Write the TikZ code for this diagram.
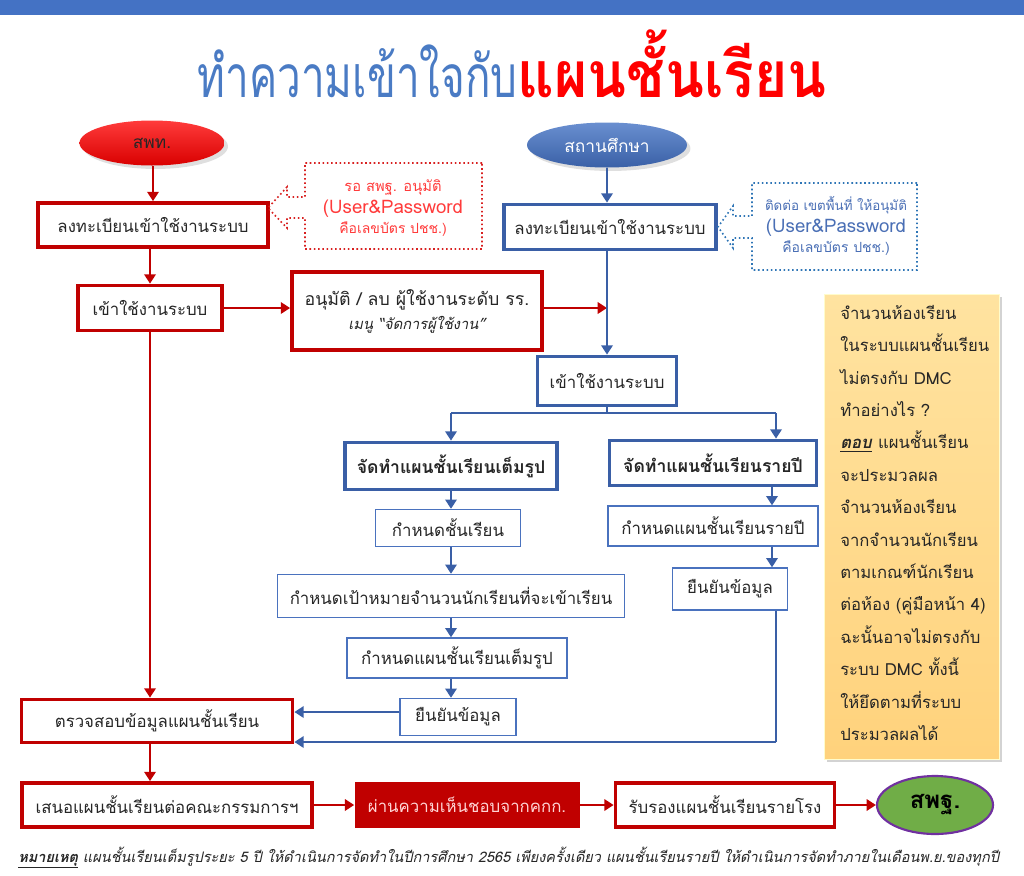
\documentclass[tikz,border=0pt]{standalone}
\usepackage{fontspec}
\setmainfont[Script=Thai]{Loma}
\newfontfamily\titleblue[Script=Thai,FakeStretch=0.72]{Loma}
\newfontfamily\titlered[Script=Thai,FakeStretch=0.89]{Loma}
\usetikzlibrary{arrows.meta,shapes.geometric,shadows,calc}
\definecolor{dred}{HTML}{C00000}
\definecolor{bblue}{HTML}{3A5FA6}
\definecolor{lblue}{HTML}{4A72BE}
\definecolor{barblue}{HTML}{4472C4}
\definecolor{tblue}{HTML}{4A7BC4}
\definecolor{txt}{HTML}{262626}
\definecolor{cred}{HTML}{D82020}
\definecolor{ctred}{HTML}{FF3B3B}
\definecolor{cblue}{HTML}{2E75B6}
\definecolor{ctblue}{HTML}{4A6FB5}
\definecolor{ynote}{HTML}{FFD27C}
\definecolor{ynotetop}{HTML}{FFE3A0}
\definecolor{ggreen}{HTML}{70AD47}
\definecolor{gpurple}{HTML}{7030A0}
\definecolor{passtxt}{HTML}{FFD5D5}
\begin{document}
\begin{tikzpicture}[x=0.75pt,y=-0.75pt,
 bw/.style={minimum width=#1*0.75pt},
 bh/.style={minimum height=#1*0.75pt},
 base/.style={rectangle, inner sep=0pt, align=center, text=txt, font=\fontsize{12.6}{15}\selectfont},
 redbox/.style={base, draw=dred, line width=2.8pt, fill=white},
 bluebox/.style={base, draw=bblue, line width=2.8pt, fill=white},
 thinbox/.style={base, draw=lblue, line width=1pt, fill=white},
 arrowtip/.style={-{Triangle[length=7pt,width=8.5pt]}},
 rarr/.style={draw=dred, line width=1.8pt, arrowtip},
 barr/.style={draw=bblue, line width=1.8pt, arrowtip},
 bline/.style={draw=bblue, line width=1.8pt},
 ell/.style={ellipse, inner sep=0pt, font=\fontsize{13}{16}\selectfont},
]
\useasboundingbox (0,0) rectangle (1024,875);
\fill[barblue] (0,0) rectangle (1024,15);

% title
\node[anchor=base, inner sep=0pt] (title) at (512,97) {{\titleblue\fontsize{44}{50}\selectfont\color{tblue}ทำความเข้าใจกับ}{\titlered\fontsize{48}{52}\selectfont\bfseries\color{red}แผนชั้นเรียน}};

% ellipses
\node[ell, bw=145, bh=45, top color=ctred, bottom color=red!85!black, text=txt, drop shadow={opacity=0.25}] (spt) at (152,143) {สพท.};
\node[ell, bw=160, bh=45, top color=barblue!80!white, bottom color=barblue!85!black, text=white, drop shadow={opacity=0.25}] (school) at (607,145) {สถานศึกษา};

% red column
\node[redbox, bw=230, bh=44] (reg1) at (153,225) {ลงทะเบียนเข้าใช้งานระบบ};
\node[redbox, bw=144, bh=45] (login1) at (150,308) {เข้าใช้งานระบบ};
\node[redbox, bw=250, bh=78] (approve) at (417,311) {{\fontsize{13.3}{17}\selectfont อนุมัติ / ลบ ผู้ใช้งานระดับ รร.}\\[3pt]{\fontsize{11}{14}\selectfont\itshape เมนู “จัดการผู้ใช้งาน”}};
\node[redbox, bw=271, bh=43] (check) at (157,721) {ตรวจสอบข้อมูลแผนชั้นเรียน};
\node[redbox, bw=290, bh=44] (propose) at (167,805) {เสนอแผนชั้นเรียนต่อคณะกรรมการฯ};
\node[base, bw=225, bh=46, fill=dred, text=passtxt] (pass) at (467,805) {ผ่านความเห็นชอบจากคกก.};
\node[redbox, bw=219, bh=44] (cert) at (725,805) {รับรองแผนชั้นเรียนรายโรง};
\node[ell, bw=116, bh=58, fill=ggreen, draw=gpurple, line width=1.6pt, text=black, font=\fontsize{18}{20}\selectfont\bfseries] (obec) at (935,805) {สพฐ.};

% blue column
\node[bluebox, bw=212, bh=45] (reg2) at (610,227) {ลงทะเบียนเข้าใช้งานระบบ};
\node[bluebox, bw=139, bh=49] (login2) at (607,381) {เข้าใช้งานระบบ};
\node[bluebox, bw=212, bh=47, font=\fontsize{13.2}{16}\selectfont\bfseries] (full) at (451,466) {จัดทำแผนชั้นเรียนเต็มรูป};
\node[bluebox, bw=207, bh=45, font=\fontsize{13.2}{16}\selectfont\bfseries] (yearly) at (713,463) {จัดทำแผนชั้นเรียนรายปี};
\node[thinbox, bw=145, bh=37] (f1) at (448,528) {กำหนดชั้นเรียน};
\node[thinbox, bw=347, bh=43] (f2) at (451,596) {กำหนดเป้าหมายจำนวนนักเรียนที่จะเข้าเรียน};
\node[thinbox, bw=220, bh=40] (f3) at (457,658) {กำหนดแผนชั้นเรียนเต็มรูป};
\node[thinbox, bw=116, bh=37] (f4) at (458,717) {ยืนยันข้อมูล};
\node[thinbox, bw=210, bh=40] (y1) at (713,526) {กำหนดแผนชั้นเรียนรายปี};
\node[thinbox, bw=115, bh=42] (y2) at (730,589) {ยืนยันข้อมูล};

% callouts
\draw[cred, line width=1.2pt, dotted] (482,163) -- (305,163) -- (305,197) -- (287,197) -- (287,187) -- (268,208) -- (287,228) -- (287,218) -- (305,218) -- (305,249) -- (482,249) -- cycle;
\node[align=center, text=ctred, inner sep=0pt] (rnote) at (393,208) {{\fontsize{11}{13}\selectfont รอ สพฐ. อนุมัติ}\\[3pt]{\fontsize{14}{16}\selectfont (User\&Password}\\[3pt]{\fontsize{10.5}{13}\selectfont คือเลขบัตร ปชช.)}};
\draw[cblue, line width=1.2pt, dotted] (917,183) -- (752,183) -- (752,216) -- (733,216) -- (733,206) -- (718,227) -- (733,248) -- (733,238) -- (752,238) -- (752,270) -- (917,270) -- cycle;
\node[align=center, text=ctblue, inner sep=0pt] (bnote) at (836,226) {{\fontsize{10}{13}\selectfont ติดต่อ เขตพื้นที่ ให้อนุมัติ}\\[3pt]{\fontsize{14}{16}\selectfont (User\&Password}\\[3pt]{\fontsize{10.5}{13}\selectfont คือเลขบัตร ปชช.)}};

% note
\node[rectangle, bw=175, bh=465, top color=ynotetop, bottom color=ynote, draw=yellow!20!white, line width=1pt, drop shadow={shadow xshift=2pt, shadow yshift=-2pt, opacity=0.35}] (notebox) at (912,527) {};
\node[anchor=north west, align=left, inner sep=0pt, text=txt, font=\fontsize{12.5}{24.3}\selectfont] (notetext) at (840,305) {จำนวนห้องเรียน\\ในระบบแผนชั้นเรียน\\ไม่ตรงกับ DMC\\ทำอย่างไร ?\\\underline{\textbf{\itshape ตอบ}} แผนชั้นเรียน\\จะประมวลผล\\จำนวนห้องเรียน\\จากจำนวนนักเรียน\\ตามเกณฑ์นักเรียน\\ต่อห้อง (คู่มือหน้า 4)\\ฉะนั้นอาจไม่ตรงกับ\\ระบบ DMC ทั้งนี้\\ให้ยึดตามที่ระบบ\\ประมวลผลได้};

% footnote
\node[anchor=base west, inner sep=0pt, text=txt, font=\fontsize{10.9}{12}\selectfont\itshape] (foot) at (18,862) {\underline{\textbf{หมายเหตุ}} แผนชั้นเรียนเต็มรูประยะ 5 ปี ให้ดำเนินการจัดทำในปีการศึกษา 2565 เพียงครั้งเดียว แผนชั้นเรียนรายปี ให้ดำเนินการจัดทำภายในเดือนพ.ย.ของทุกปี};

% red connectors
\draw[rarr] (spt.south -| reg1.north) -- (reg1.north);
\draw[rarr] (reg1.south -| login1.north) -- (login1.north);
\draw[rarr] (login1.east) -- (login1.east -| approve.west);
\draw[rarr] (approve.east |- login1.east) -- (login1.east -| login2.north);
\draw[rarr] (login1.south) -- (login1.south |- check.north);
\draw[rarr] (check.south -| login1.south) -- (login1.south |- propose.north);
\draw[rarr] (propose.east) -- (pass.west);
\draw[rarr] (pass.east) -- (cert.west);
\draw[rarr] (cert.east) -- (obec.west);

% blue connectors
\draw[barr] (school.south) -- (school.south |- reg2.north);
\draw[barr] (reg2.south -| login2.north) -- (login2.north);
\coordinate (br) at (607,413);
\coordinate (ybr) at (776,413);
\draw[bline] (login2.south) -- (br);
\draw[bline] (full.north |- br) -- (ybr);
\draw[barr] (full.north |- br) -- (full.north);
\draw[barr] (ybr) -- (ybr |- yearly.north);
\draw[barr] (full.south) -- (full.south |- f1.north);
\draw[barr] (f1.south -| full.south) -- (full.south |- f2.north);
\draw[barr] (f2.south -| full.south) -- (full.south |- f3.north);
\draw[barr] (f3.south -| full.south) -- (full.south |- f4.north);
\coordinate (ycol) at (772,0);
\draw[barr] (yearly.south -| ycol) -- (ycol |- y1.north);
\draw[barr] (y1.south -| ycol) -- (ycol |- y2.north);
\coordinate (yend) at (776,742);
\draw[bline] (y2.south -| yend) -- (yend);
\draw[barr] (yend) -- (yend -| check.east);
\draw[barr] (f4.west |- 0,712) -- (check.east |- 0,712);
\end{tikzpicture}
\end{document}
